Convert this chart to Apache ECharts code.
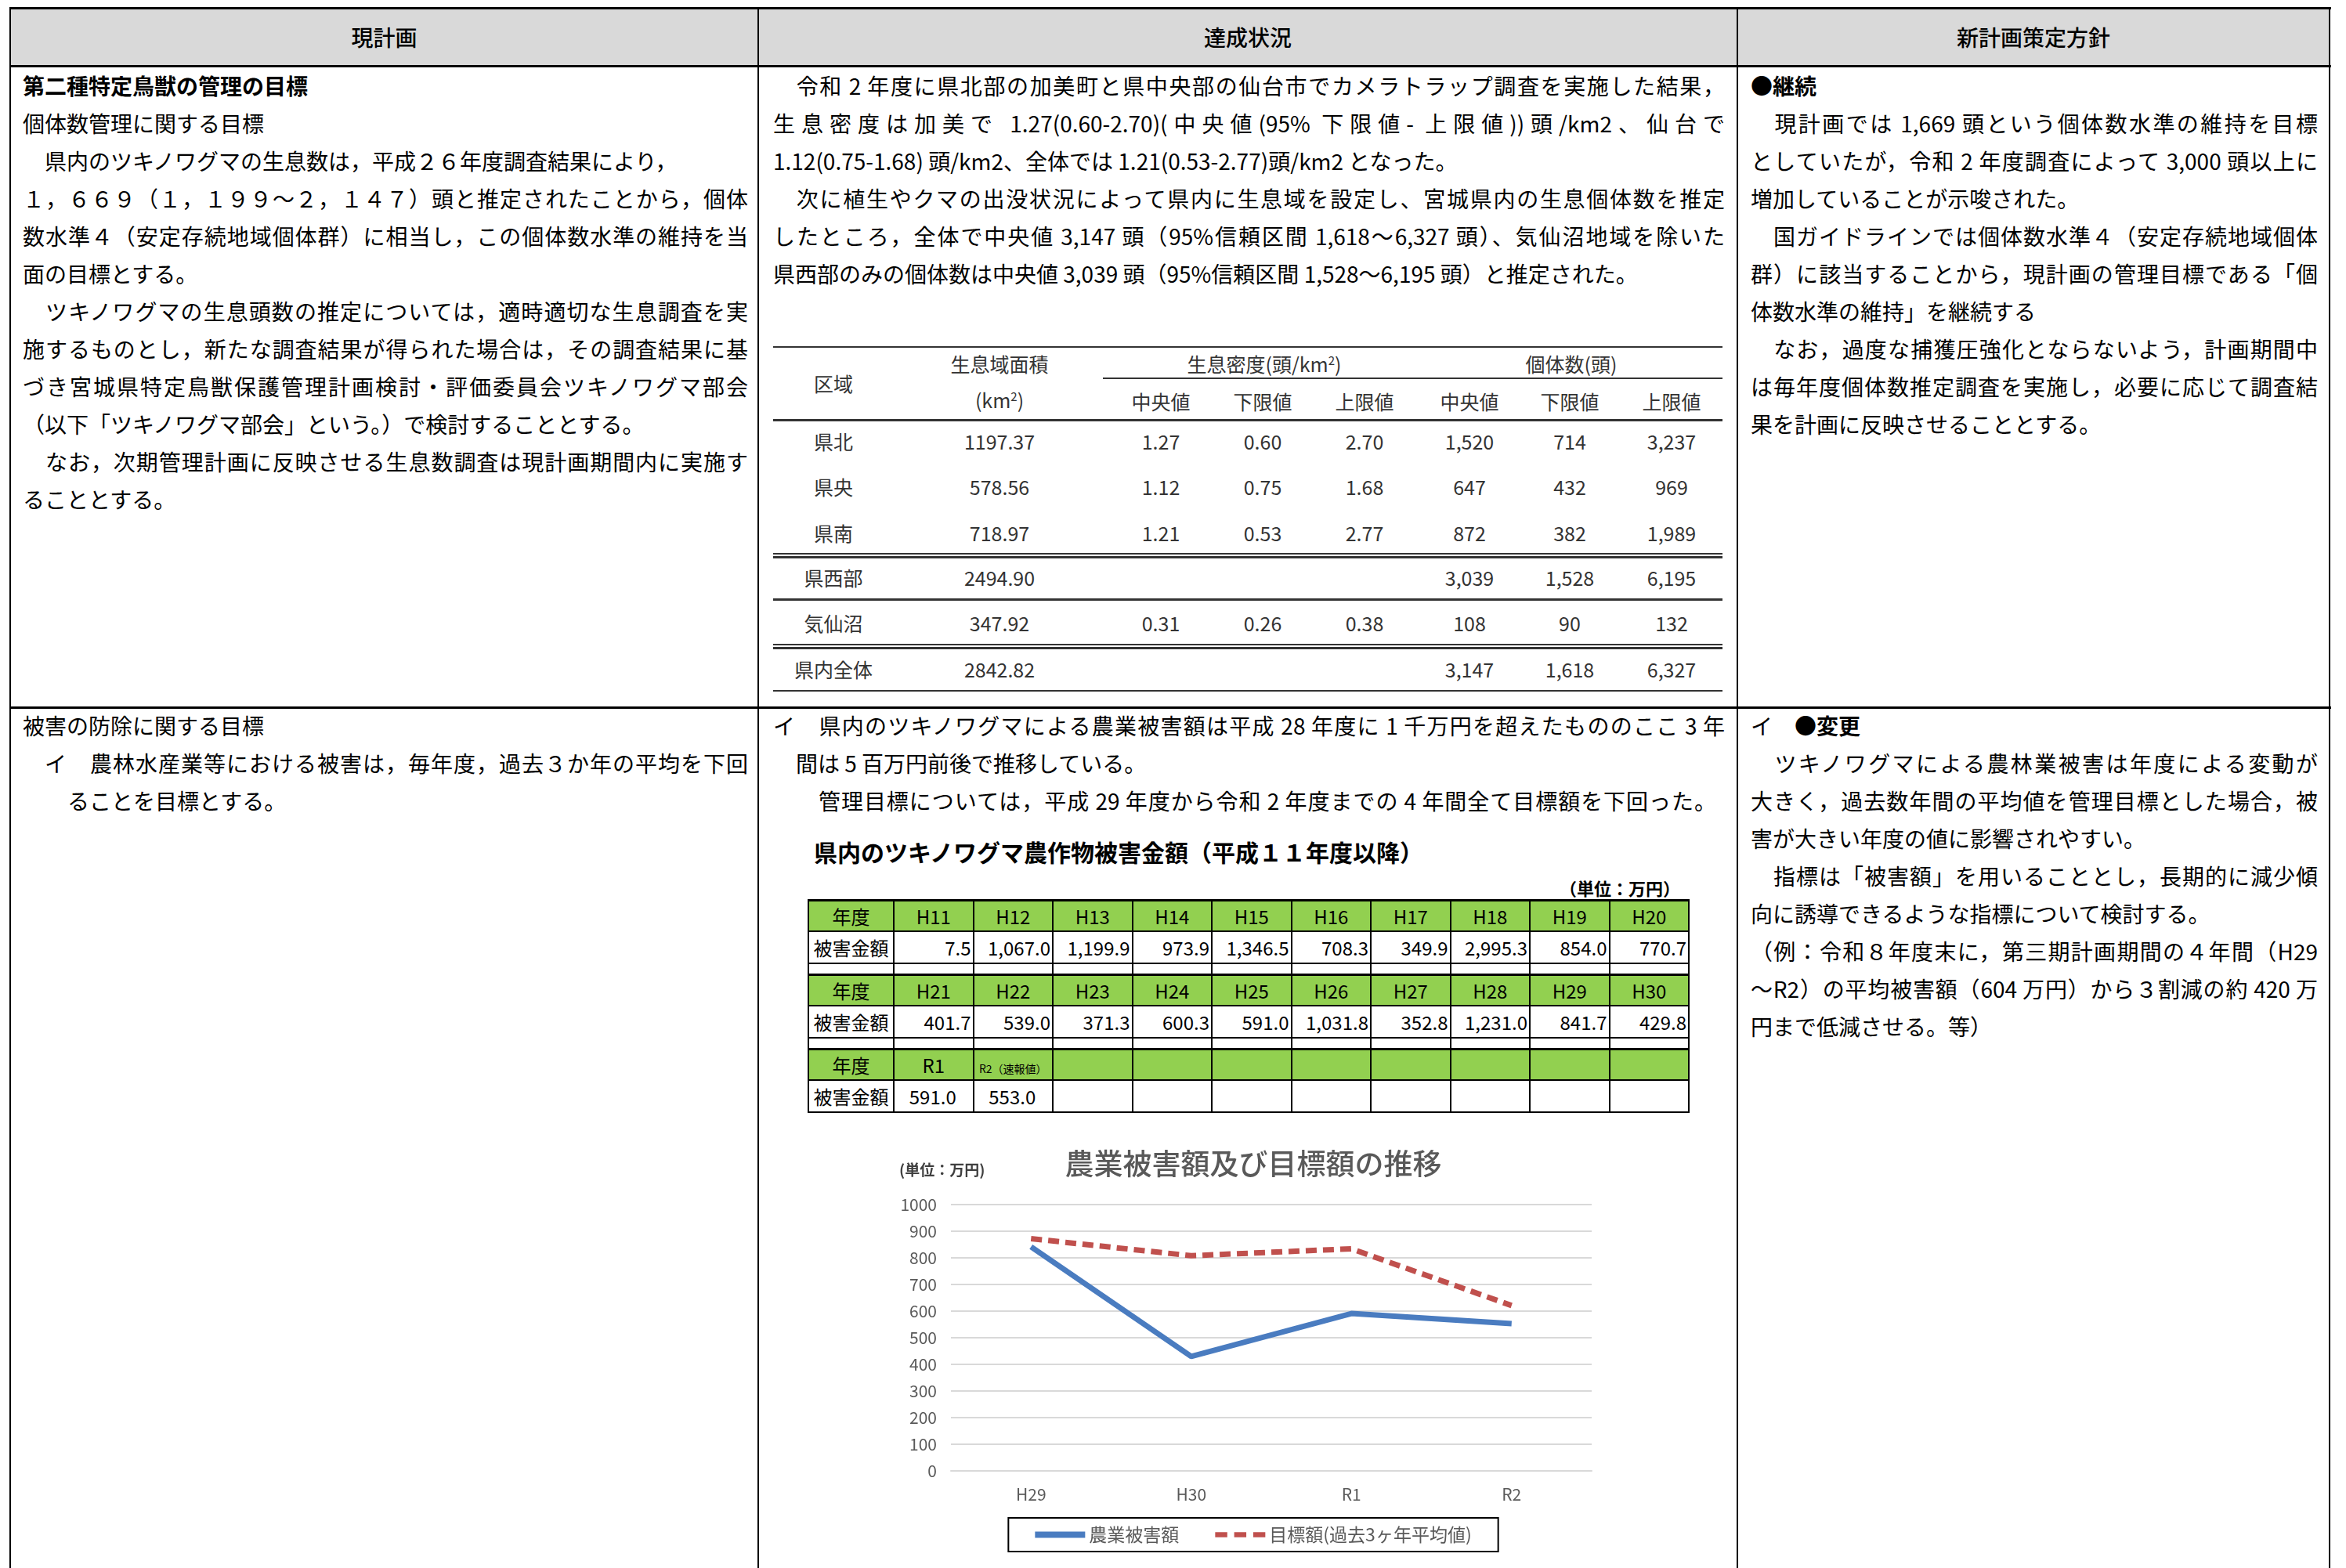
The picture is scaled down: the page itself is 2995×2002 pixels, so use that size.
<!DOCTYPE html>
<html>
<head>
<meta charset="utf-8">
<script src="https://cdn.jsdelivr.net/npm/echarts@6/dist/echarts.min.js"></script>
<style>
body{margin:0;width:2995px;height:2002px;overflow:hidden;background:#fff;position:relative;
  font-family:"Noto Sans CJK JP","Noto Sans",sans-serif;color:#000}
.ln{position:absolute;font-size:28px;line-height:48px;height:48px;white-space:pre-wrap}
.j{text-align:justify;text-align-last:justify}
.b{font-weight:bold}
.bar{position:absolute;background:#000}
.c{position:absolute;transform:translate(-50%,-50%);white-space:nowrap;font-size:25px;color:#333}
.hd{position:absolute;top:10px;height:74px;line-height:74px;text-align:center;font-size:28px;font-weight:500}
#dmg{position:absolute;left:1031px;top:1148px;border-collapse:collapse;table-layout:fixed}
#dmg td{border:2px solid #000;padding:0;font-size:24px;line-height:1;white-space:nowrap;overflow:hidden}
#dmg tr.h td{background:#92d050;text-align:center;height:37px;border-top:3px solid #000}
#dmg tr.v td{text-align:right;height:39px;padding-right:2px}
#dmg tr.v td:first-child{text-align:center;padding-right:0}
#dmg tr.s td{height:12px}
#chart{position:absolute;left:1100px;top:1450px;width:1000px;height:552px}
</style>
</head>
<body>
<div id="chart"></div>
<script>
// グラフ：農業被害額及び目標額の推移
var years = ['H29', 'H30', 'R1', 'R2'];
var damage = [841.7, 429.8, 591.0, 553.0];
var target = [872, 808, 834, 621];
var yTicks = { min: 0, max: 1000, interval: 100 };

// 農作物被害金額の表（平成11年度以降）
var damageYears = ['H11', 'H12', 'H13', 'H14', 'H15', 'H16', 'H17', 'H18', 'H19', 'H20',
    'H21', 'H22', 'H23', 'H24', 'H25', 'H26', 'H27', 'H28', 'H29', 'H30', 'R1', 'R2'];
var damageValues = [7.5, 1067.0, 1199.9, 973.9, 1346.5, 708.3, 349.9, 2995.3, 854.0, 770.7,
    401.7, 539.0, 371.3, 600.3, 591.0, 1031.8, 352.8, 1231.0, 841.7, 429.8, 591.0, 553.0];

// 生息個体数の推定表
var regions = ['県北', '県央', '県南', '県西部', '気仙沼', '県内全体'];
var areas = [1197.37, 578.56, 718.97, 2494.90, 347.92, 2842.82];
var densMid = [1.27, 1.12, 1.21, null, 0.31, null];
var densLow = [0.60, 0.75, 0.53, null, 0.26, null];
var densHigh = [2.70, 1.68, 2.77, null, 0.38, null];
var popMid = [1520, 647, 872, 3039, 108, 3147];
var popLow = [714, 432, 382, 1528, 90, 1618];
var popHigh = [3237, 969, 1989, 6195, 132, 6327];

function el(cls, css, html) {
    var d = document.createElement('div');
    d.className = cls;
    d.style.cssText = css;
    if (html !== undefined) d.innerHTML = html;
    document.body.appendChild(d);
    return d;
}

function addLines(lines, x, w, y0) {
    lines.forEach(function (l, i) {
        var dx = l.dx || 0;
        el('ln' + (l.j ? ' j' : '') + (l.b ? ' b' : ''),
            'left:' + (x + dx) + 'px;top:' + (y0 + i * 48 - 24) + 'px;width:' + (l.w || (w - dx)) + 'px', l.t);
    });
}

// 枠と見出し
el('', 'position:absolute;left:13px;top:10px;width:2961px;height:74px;background:#d9d9d9');
el('bar', 'left:13px;top:9px;width:2963px;height:3px');
el('bar', 'left:13px;top:83px;width:2963px;height:3px');
el('bar', 'left:12px;top:9px;width:2px;height:2000px');
el('bar', 'left:967px;top:9px;width:2px;height:2000px');
el('bar', 'left:2217px;top:9px;width:2px;height:2000px');
el('bar', 'left:2973px;top:9px;width:2px;height:2000px');
el('bar', 'left:13px;top:902px;width:2963px;height:3px');
el('hd', 'left:13px;width:955px', '現計画');
el('hd', 'left:968px;width:1250px', '達成状況');
el('hd', 'left:2218px;width:756px', '新計画策定方針');

// 現計画
addLines([
    { t: '第二種特定鳥獣の管理の目標', b: 1 },
    { t: '個体数管理に関する目標' },
    { t: '　県内のツキノワグマの生息数は，平成２６年度調査結果により，' },
    { t: '１，６６９（１，１９９～２，１４７）頭と推定されたことから，個体', j: 1 },
    { t: '数水準４（安定存続地域個体群）に相当し，この個体数水準の維持を当', j: 1 },
    { t: '面の目標とする。' },
    { t: '　ツキノワグマの生息頭数の推定については，適時適切な生息調査を実', j: 1 },
    { t: '施するものとし，新たな調査結果が得られた場合は，その調査結果に基', j: 1 },
    { t: 'づき宮城県特定鳥獣保護管理計画検討・評価委員会ツキノワグマ部会', j: 1 },
    { t: '（以下「ツキノワグマ部会」という。）で検討することとする。' },
    { t: '　なお，次期管理計画に反映させる生息数調査は現計画期間内に実施す', j: 1 },
    { t: 'ることとする。' }
], 29, 926, 109);
addLines([
    { t: '被害の防除に関する目標' },
    { t: 'イ　農林水産業等における被害は，毎年度，過去３か年の平均を下回', j: 1, dx: 28 },
    { t: 'ることを目標とする。', dx: 57 }
], 29, 926, 926);

// 達成状況
addLines([
    { t: '　令和 2 年度に県北部の加美町と県中央部の仙台市でカメラトラップ調査を実施した結果，', j: 1 },
    { t: '生息密度は加美で 1.27(0.60-2.70)(中央値(95% 下限値- 上限値))頭/km2、仙台で', j: 1 },
    { t: '1.12(0.75-1.68) 頭/km2、全体では 1.21(0.53-2.77)頭/km2 となった。' },
    { t: '　次に植生やクマの出没状況によって県内に生息域を設定し、宮城県内の生息個体数を推定', j: 1 },
    { t: 'したところ，全体で中央値 3,147 頭（95%信頼区間 1,618～6,327 頭）、気仙沼地域を除いた', j: 1 },
    { t: '県西部のみの個体数は中央値 3,039 頭（95%信頼区間 1,528～6,195 頭）と推定された。' }
], 987, 1215, 109);
addLines([
    { t: 'イ　県内のツキノワグマによる農業被害額は平成 28 年度に 1 千万円を超えたもののここ 3 年', j: 1 },
    { t: '間は 5 百万円前後で推移している。', dx: 29 },
    { t: '　管理目標については，平成 29 年度から令和 2 年度までの 4 年間全て目標額を下回った。', j: 1, dx: 29, w: 1175 }
], 987, 1215, 926);

// 新計画策定方針
addLines([
    { t: '●継続', b: 1 },
    { t: '　現計画では 1,669 頭という個体数水準の維持を目標', j: 1 },
    { t: 'としていたが，令和 2 年度調査によって 3,000 頭以上に', j: 1 },
    { t: '増加していることが示唆された。' },
    { t: '　国ガイドラインでは個体数水準４（安定存続地域個体', j: 1 },
    { t: '群）に該当することから，現計画の管理目標である「個', j: 1 },
    { t: '体数水準の維持」を継続する' },
    { t: '　なお，過度な捕獲圧強化とならないよう，計画期間中', j: 1 },
    { t: 'は毎年度個体数推定調査を実施し，必要に応じて調査結', j: 1 },
    { t: '果を計画に反映させることとする。' }
], 2235, 724, 109);
addLines([
    { t: 'イ　<b>●変更</b>' },
    { t: '　ツキノワグマによる農林業被害は年度による変動が', j: 1 },
    { t: '大きく，過去数年間の平均値を管理目標とした場合，被', j: 1 },
    { t: '害が大きい年度の値に影響されやすい。' },
    { t: '　指標は「被害額」を用いることとし，長期的に減少傾', j: 1 },
    { t: '向に誘導できるような指標について検討する。' },
    { t: '（例：令和８年度末に，第三期計画期間の４年間（H29', j: 1 },
    { t: '～R2）の平均被害額（604 万円）から３割減の約 420 万', j: 1 },
    { t: '円まで低減させる。等）' }
], 2235, 724, 926);

// 生息個体数の表
var colX = [1064, 1276, 1482, 1612, 1742, 1876, 2004, 2134];
var rowY = [563, 621, 680, 737, 795, 854];
function hline(y, x0, x1, h) {
    el('bar', 'background:#333;left:' + x0 + 'px;top:' + y + 'px;width:' + (x1 - x0) + 'px;height:' + h + 'px');
}
hline(442, 987, 2199, 2);
hline(482, 1408, 2199, 2);
hline(535, 987, 2199, 3);
hline(706, 987, 2199, 2); hline(710, 987, 2199, 3);
hline(764, 987, 2199, 3);
hline(822, 987, 2199, 2); hline(826, 987, 2199, 3);
hline(881, 987, 2199, 2);
el('c', 'left:1064px;top:489px', '区域');
el('c', 'left:1276px;top:464px', '生息域面積');
el('c', 'left:1276px;top:510px', '(km<sup style="font-size:15px">2</sup>)');
el('c', 'left:1614px;top:464px', '生息密度(頭/km<sup style="font-size:15px">2</sup>)');
el('c', 'left:2006px;top:464px', '個体数(頭)');
['中央値', '下限値', '上限値', '中央値', '下限値', '上限値'].forEach(function (s, i) {
    el('c', 'left:' + colX[i + 2] + 'px;top:512px', s);
});
function f2(v) { return v === null ? '' : v.toFixed(2); }
function fi(v) { return v.toLocaleString('en-US'); }
regions.forEach(function (r, i) {
    var cells = [r, f2(areas[i]), f2(densMid[i]), f2(densLow[i]), f2(densHigh[i]),
        fi(popMid[i]), fi(popLow[i]), fi(popHigh[i])];
    cells.forEach(function (s, k) {
        el('c', 'left:' + colX[k] + 'px;top:' + rowY[i] + 'px', s);
    });
});

// 農作物被害金額の表
el('ln b', 'left:1039px;top:1063px;font-size:30px', '県内のツキノワグマ農作物被害金額（平成１１年度以降）');
el('ln b', 'left:1900px;top:1109px;width:245px;text-align:right;font-size:22px', '（単位：万円）');
var fmt1 = function (v) {
    return v.toLocaleString('en-US', { minimumFractionDigits: 1, maximumFractionDigits: 1 });
};
var tb = '<colgroup><col style="width:109px">';
for (var c = 0; c < 10; c++) tb += '<col style="width:101.5px">';
tb += '</colgroup>';
for (var blk = 0; blk < 3; blk++) {
    if (blk > 0) {
        tb += '<tr class="s"><td></td>' + new Array(11).join('<td></td>') + '</tr>';
    }
    var hr = '<tr class="h"><td>年度</td>', vr = '<tr class="v"><td>被害金額</td>';
    for (var k = 0; k < 10; k++) {
        var idx = blk * 10 + k;
        if (idx < damageYears.length) {
            var lab = damageYears[idx];
            if (idx === damageYears.length - 1) lab = '<span style="font-size:14px">' + lab + '（速報値）</span>';
            hr += '<td>' + lab + '</td>';
            vr += '<td' + (blk === 2 ? ' style="text-align:center"' : '') + '>' + fmt1(damageValues[idx]) + '</td>';
        } else {
            hr += '<td></td>';
            vr += '<td></td>';
        }
    }
    tb += hr + '</tr>' + vr + '</tr>';
}
var t = document.createElement('table');
t.id = 'dmg';
t.innerHTML = tb;
document.body.appendChild(t);

// 推移グラフ
var myChart = echarts.init(document.getElementById('chart'));
var option = {
    animation: false,
    textStyle: { fontFamily: '"Noto Sans CJK JP", sans-serif' },
    title: {
        text: '農業被害額及び目標額の推移',
        left: 'center',
        top: 12,
        textStyle: { fontSize: 37, fontWeight: 500, color: '#595959' }
    },
    graphic: [{
        type: 'text',
        left: 48,
        top: 34,
        style: { text: '(単位：万円)', fontSize: 19, fontWeight: 'bold', fill: '#404040',
            fontFamily: '"Noto Sans CJK JP", sans-serif' }
    }],
    legend: {
        data: [
            { name: '農業被害額', icon: 'rect' },
            { name: '目標額(過去3ヶ年平均値)', icon: 'path://M0,0h14v6h-14z M22,0h14v6h-14z M44,0h14v6h-14z' }
        ],
        left: 'center',
        top: 488,
        padding: [10, 34],
        itemWidth: 64,
        itemHeight: 8,
        itemGap: 46,
        borderColor: '#000',
        borderWidth: 2,
        textStyle: { fontSize: 23, color: '#595959' }
    },
    grid: { left: 114, right: 68, top: 88, bottom: 124 },
    xAxis: {
        type: 'category',
        data: years,
        boundaryGap: true,
        axisLine: { lineStyle: { color: '#d9d9d9', width: 2 } },
        axisTick: { show: false },
        axisLabel: { fontSize: 21, color: '#595959', margin: 20 }
    },
    yAxis: {
        type: 'value',
        min: yTicks.min,
        max: yTicks.max,
        interval: yTicks.interval,
        axisLine: { show: false },
        axisTick: { show: false },
        axisLabel: { fontSize: 21, color: '#595959', margin: 18, formatter: function (v) { return String(v); } },
        splitLine: { lineStyle: { color: '#d9d9d9', width: 2 } }
    },
    series: [{
        name: '農業被害額',
        type: 'line',
        data: damage,
        symbol: 'none',
        lineStyle: { color: '#4a7cc0', width: 7 },
        itemStyle: { color: '#4a7cc0' }
    }, {
        name: '目標額(過去3ヶ年平均値)',
        type: 'line',
        data: target,
        symbol: 'none',
        lineStyle: { color: '#c0504d', width: 7, type: [14, 8] },
        itemStyle: { color: '#c0504d' }
    }]
};
myChart.setOption(option, true);
</script>
</body>
</html>
